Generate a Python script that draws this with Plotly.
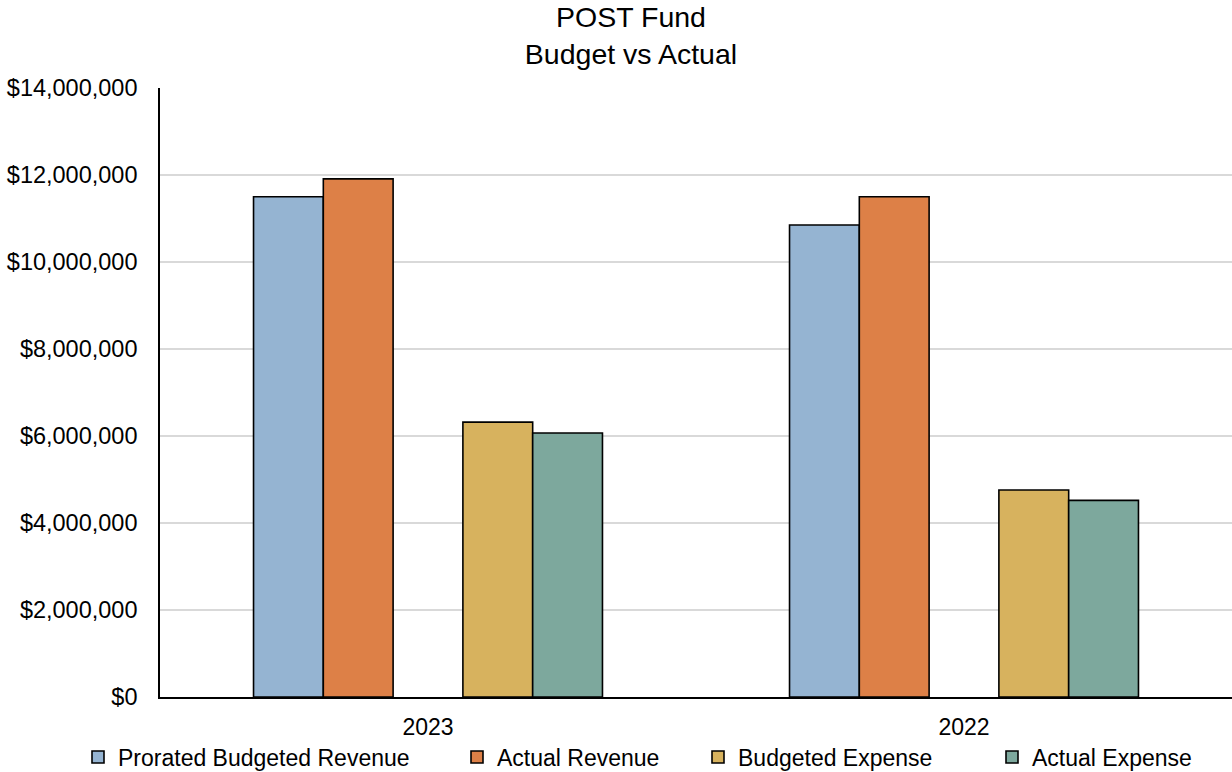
import plotly.graph_objects as go

# Fiscal years on the category axis
years = ["2023", "2022"]

# Dollar amounts per series, in year order
prorated_budgeted_revenue = [11_500_000, 10_850_000]
actual_revenue = [11_910_000, 11_500_000]
budgeted_expense = [6_320_000, 4_760_000]
actual_expense = [6_070_000, 4_520_000]

series_names = [
    "Prorated Budgeted Revenue",
    "Actual Revenue",
    "Budgeted Expense",
    "Actual Expense",
]
series_values = [prorated_budgeted_revenue, actual_revenue, budgeted_expense, actual_expense]
series_colors = ["#95B4D2", "#DD8047", "#D7B25E", "#7DA89D"]

y_ticks = [0, 2_000_000, 4_000_000, 6_000_000, 8_000_000, 10_000_000, 12_000_000, 14_000_000]

FONT = "Liberation Sans, Arial, sans-serif"

W, H = 1232, 772
M_L, M_R, M_T, M_B = 160, 0, 88, 75
plot_w = W - M_L - M_R
plot_h = H - M_T - M_B

fig = go.Figure()

legend_ids = ["legend", "legend2", "legend3", "legend4"]
# Left edge (px) of each legend entry's text
legend_text_x = [118, 497, 738, 1032]

for i, (name, vals, col) in enumerate(zip(series_names, series_values, series_colors)):
    fig.add_trace(go.Bar(
        x=years, y=vals, name=name,
        marker=dict(color=col, line=dict(color="black", width=1.6)),
        legend=legend_ids[i],
    ))
    if i == 1:
        # blank series separating revenue and expense bars
        fig.add_trace(go.Bar(x=years, y=[None, None], name="", showlegend=False,
                             hoverinfo="skip"))

legend_y = (M_T + plot_h - 757) / plot_h
legend_layout = {}
for lid, tx in zip(legend_ids, legend_text_x):
    legend_layout[lid] = dict(
        x=(tx - 40 - M_L) / plot_w, xref="paper", xanchor="left",
        y=legend_y, yref="paper", yanchor="middle",
        orientation="h", bgcolor="rgba(0,0,0,0)", borderwidth=0,
        font=dict(family=FONT, size=23, color="black"),
        itemwidth=30,
    )

fig.update_layout(
    width=W, height=H,
    margin=dict(l=M_L, r=M_R, t=M_T, b=M_B, autoexpand=False),
    paper_bgcolor="white", plot_bgcolor="white",
    barmode="group", bargap=0.349, bargroupgap=0,
    font=dict(family=FONT, size=23, color="black"),
    title=dict(
        text="POST Fund<br>Budget vs Actual",
        x=(631 - M_L) / plot_w, xref="paper", xanchor="center",
        y=1 - 27 / H, yref="container", yanchor="middle",
        font=dict(family=FONT, size=28.5, color="black"),
    ),
    xaxis=dict(
        type="category", showgrid=False, showline=True, linecolor="black", linewidth=1.6,
        ticks="", ticklabelstandoff=9,
        tickfont=dict(family=FONT, size=23, color="black"),
    ),
    yaxis=dict(
        range=[0, 14_000_000], tickvals=y_ticks, tickformat="$,.0f",
        showgrid=True, gridcolor="#d9d9d9", gridwidth=1.5,
        showline=True, linecolor="black", linewidth=1.6,
        ticks="", ticklabelstandoff=16, zeroline=False,
        tickfont=dict(family=FONT, size=23.5, color="black"),
    ),
    **legend_layout,
)

fig.write_html("out.html")
